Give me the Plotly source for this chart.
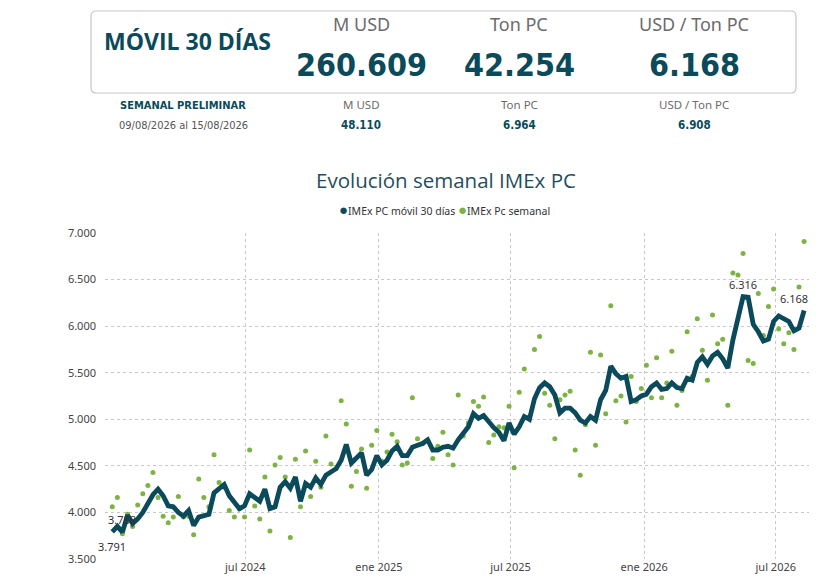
import pandas as pd
import plotly.graph_objects as go

# weekly dates (week start, Sunday)
dates = pd.date_range(end="2026-08-09", periods=137, freq="7D")

# IMEx PC movil 30 dias (USD / Ton PC)
movil = [3791, 3850, 3788, 3970, 3880, 3930, 4000, 4090, 4190, 4250,
         4180, 4070, 4060, 4000, 3960, 4020, 3860, 3950, 3960, 3980,
         4210, 4260, 4300, 4180, 4110, 4040, 4070, 4200, 4160, 4120,
         4250, 4040, 4060, 4270, 4330, 4260, 4380, 4120, 4310, 4270,
         4370, 4300, 4400, 4430, 4470, 4560, 4730, 4530, 4580, 4640,
         4400, 4460, 4610, 4510, 4560, 4660, 4710, 4610, 4610, 4700,
         4720, 4740, 4780, 4670, 4670, 4700, 4710, 4690, 4780, 4850,
         4920, 5060, 5010, 5040, 4970, 4910, 4860, 4770, 4960, 4840,
         4920, 5030, 5000, 5220, 5340, 5390, 5350, 5260, 5070, 5120,
         5120, 5070, 4990, 4960, 5030, 4990, 5210, 5310, 5570, 5490,
         5440, 5460, 5190, 5210, 5250, 5270, 5350, 5390, 5320, 5330,
         5390, 5340, 5330, 5440, 5420, 5610, 5670, 5590, 5680, 5720,
         5650, 5550, 5850, 6100, 6316, 6310, 6020, 5940, 5840, 5860,
         6050, 6110, 6080, 6050, 5950, 5980, 6168]

# IMEx Pc semanal (USD / Ton PC)
semanal = [4060, 4160, 3770, 3980, 3850, 4080, 4200, 4290, 4430, 4160,
           3960, 3890, 3950, 4170, 3950, 3960, 3760, 4360, 4160, 4060,
           4620, 4320, 4270, 4020, 3950, 4040, 3950, 4670, 4070, 3930,
           4380, 3800, 4510, 4590, 4380, 3730, 4570, 4060, 4660, 4170,
           4550, 4270, 4820, 4520, 4470, 5200, 4950, 4280, 4440, 4680,
           4260, 4720, 4880, 4550, 4650, 4840, 4760, 4510, 4530, 5230,
           4790, 4740, 4770, 4580, 4710, 4860, 4620, 4510, 5260, 4820,
           4960, 5190, 5140, 5240, 4750, 4830, 4920, 4910, 5140, 4480,
           5290, 5540, 5030, 5750, 5890, 5280, 5150, 4790, 5210, 5260,
           5300, 4670, 4400, 4940, 5720, 4720, 5690, 5060, 6220, 5200,
           5250, 4970, 5460, 5190, 5330, 5580, 5230, 5660, 5230, 5390,
           5730, 5150, 5310, 5940, 5460, 6080, 5740, 5420, 6120, 5810,
           5860, 5150, 6570, 6550, 6780, 5630, 5600, 6350, 5900, 6210,
           6400, 5970, 5810, 5930, 5750, 6420, 6908]

# header cards
card_heads = ["M USD", "Ton PC", "USD / Ton PC"]
card_movil = ["260.609", "42.254", "6.168"]
card_semanal = ["48.110", "6.964", "6.908"]
semana_txt = "09/08/2026 al 15/08/2026"

tick_dates = ["2024-07-01", "2025-01-01", "2025-07-01", "2026-01-01", "2026-07-01"]
tick_text = ["jul 2024", "ene 2025", "jul 2025", "ene 2026", "jul 2026"]

TEAL = "#0a4a5a"
GREEN = "#7cb342"
GRAY = "#6b6b6b"
NARROW = "DejaVu Sans Condensed, Roboto, sans-serif"

# the page puts the figure 8px in from the top-left corner
OFF = 8
W_FIG, H_FIG = 817 - OFF, 581 - OFF
L, R, T, B = 105 - OFF, 2, 233 - OFF, 22
PW, PH = W_FIG - L - R, H_FIG - T - B


def px(x):
    return (x - OFF - L) / PW


def py(y):
    return (H_FIG - B - (y - OFF)) / PH


fig = go.Figure()

fig.add_trace(go.Scatter(x=dates, y=semanal, mode="markers", name="IMEx Pc semanal",
                         marker=dict(color=GREEN, size=5), showlegend=False))
fig.add_trace(go.Scatter(x=dates, y=movil, mode="lines", name="IMEx PC móvil 30 días",
                         line=dict(color=TEAL, width=4.8), showlegend=False))

annotations = []

# data labels: first, min, max, last
i_min = movil.index(min(movil))
i_max = movil.index(max(movil))
lab_font = dict(family="Noto Sans", size=11, color="#333333")
for i, ys in [(0, -15), (i_min, 13), (i_max, 12), (len(movil) - 1, 12)]:
    xs = -10 if i == len(movil) - 1 else 0
    annotations.append(dict(x=dates[i], y=movil[i], xref="x", yref="y",
                            text=f"{movil[i]:,}".replace(",", "."),
                            showarrow=False, yshift=ys, xshift=xs, font=lab_font))

# header box
r = 5
x0, x1, y0, y1 = px(91), px(796), py(11), py(93)
rx, ry = r / PW, r / PH
path = (f"M {x0+rx},{y0} L {x1-rx},{y0} Q {x1},{y0} {x1},{y0-ry} "
        f"L {x1},{y1+ry} Q {x1},{y1} {x1-rx},{y1} L {x0+rx},{y1} "
        f"Q {x0},{y1} {x0},{y1+ry} L {x0},{y0-ry} Q {x0},{y0} {x0+rx},{y0} Z")
fig.add_shape(type="path", path=path, xref="paper", yref="paper",
              line=dict(color="#c6c6c6", width=1.2), fillcolor="rgba(0,0,0,0)")


def note(x, y, text, size, color, family=NARROW):
    annotations.append(dict(x=px(x), y=py(y), xref="paper", yref="paper", text=text,
                            showarrow=False, xanchor="center", yanchor="middle",
                            font=dict(family=family, size=size, color=color)))


note(187, 41, "<b>MÓVIL 30 DÍAS</b>", 23, TEAL, "Open Sans")
col_x = [361, 519, 694]
for cx, h, v in zip(col_x, card_heads, card_movil):
    note(cx, 24, h, 18, GRAY, "Noto Sans")
    note(cx, 65, f"<b>{v}</b>", 32, TEAL)

note(183, 105, "<b>SEMANAL PRELIMINAR</b>", 11, TEAL)
note(183, 126, semana_txt, 11, "#555555")
for cx, h, v in zip(col_x, card_heads, card_semanal):
    note(cx, 104, h, 11.5, GRAY, "Noto Sans")
    note(cx, 125, f"<b>{v}</b>", 11.5, TEAL)

# title + legend
note(446, 180, "Evolución semanal IMEx PC", 20.5, "#1f4f5c", "Open Sans")
legend_txt = (f"<span style='color:{TEAL};font-size:15px'>●</span>IMEx PC móvil 30 días "
              f"<span style='color:{GREEN};font-size:15px'>●</span>IMEx Pc semanal")
note(444, 209, legend_txt, 10.5, "#333333", "Noto Sans")

fig.update_layout(
    width=W_FIG, height=H_FIG,
    margin=dict(l=L, r=R, t=T, b=B),
    paper_bgcolor="white", plot_bgcolor="white",
    separators=",.",
    annotations=annotations,
    font=dict(family="Noto Sans", size=11, color="#444444"),
)
fig.update_xaxes(
    range=["2023-12-21", "2026-08-24"],
    tickvals=tick_dates, ticktext=tick_text,
    showgrid=True, gridcolor="#c8c8c8", griddash="dot", gridwidth=1,
    showline=False, zeroline=False, ticks="",
    tickfont=dict(family="Noto Sans", size=11, color="#444444"),
)
fig.update_yaxes(
    range=[3500, 7000], dtick=500, tickformat=",.0f",
    showgrid=True, gridcolor="#c8c8c8", griddash="dot", gridwidth=1,
    showline=False, zeroline=False, ticks="", ticklabelstandoff=8,
    tickfont=dict(family="Noto Sans", size=11, color="#444444"),
)

fig.write_html("out.html")
